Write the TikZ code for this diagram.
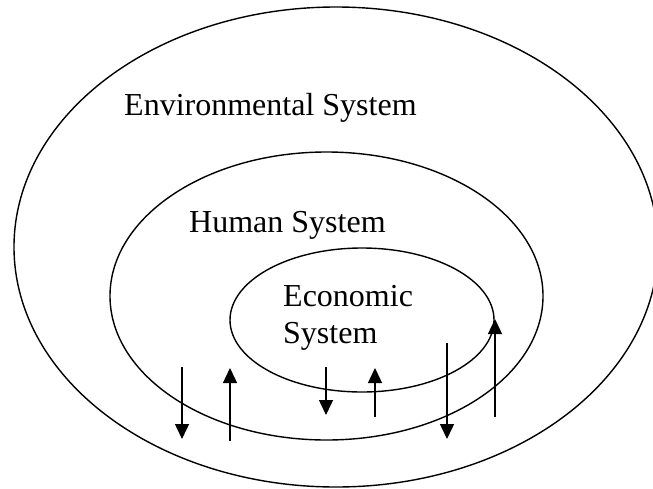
\documentclass[tikz,border=0pt]{standalone}
\usepackage{fontspec}
\setmainfont{Liberation Serif}
\usetikzlibrary{shapes.geometric,arrows.meta}
\tikzset{
  sysring/.style={draw, ellipse, line width=1.4pt, inner sep=0pt},
  systext/.style={anchor=base west, inner sep=0pt, font=\fontsize{32}{38}\selectfont},
  flow/.style={line width=1.4pt, -{Triangle[length=15pt,width=14pt]}}
}
\begin{document}
\begin{tikzpicture}[x=1pt,y=-1pt]
\useasboundingbox (0,0) rectangle (653,488);
\node[sysring, minimum width=644pt, minimum height=480pt] (env) at (336,247) {};
\node[sysring, minimum width=433pt, minimum height=288pt] (hum) at (326.5,296) {};
\node[sysring, minimum width=264pt, minimum height=144pt] (eco) at (362,320) {};
\node[systext] (envt) at (124,115) {Environmental System};
\node[systext] (humt) at (189,232) {Human System};
\node[systext] (ecot1) at (283,306) {Economic};
\node[systext] (ecot2) at (283,343) {System};
\coordinate (a1s) at (182,367); \coordinate (a1e) at (182,439);
\coordinate (a2s) at (230,441); \coordinate (a2e) at (230,368);
\coordinate (a3s) at (326,367); \coordinate (a3e) at (326,415);
\coordinate (a4s) at (375,417); \coordinate (a4e) at (375,368);
\coordinate (a5s) at (447,343); \coordinate (a5e) at (447,439);
\coordinate (a6s) at (495,417); \coordinate (a6e) at (495,319);
\draw[flow] (a1s) -- (a1e);
\draw[flow] (a2s) -- (a2e);
\draw[flow] (a3s) -- (a3e);
\draw[flow] (a4s) -- (a4e);
\draw[flow] (a5s) -- (a5e);
\draw[flow] (a6s) -- (a6e);
\end{tikzpicture}
\end{document}
